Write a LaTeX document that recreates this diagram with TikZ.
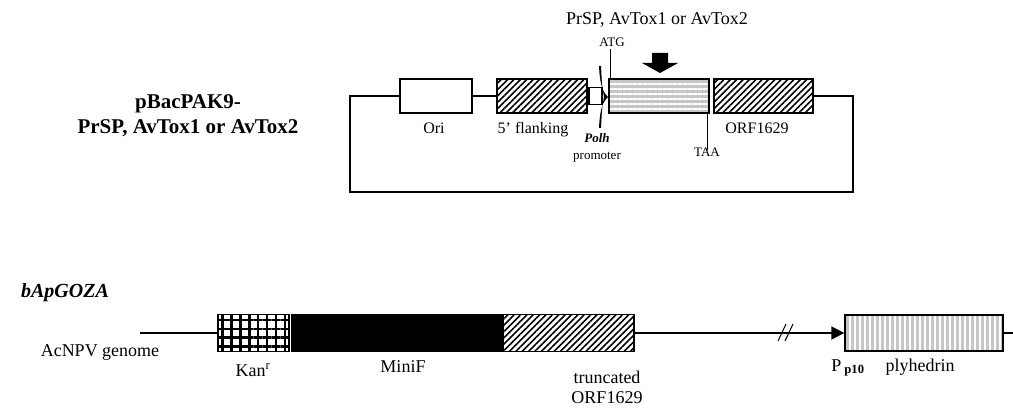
\documentclass[tikz,border=0pt]{standalone}
\usepackage{fontspec}
\setmainfont{Liberation Serif}
\usetikzlibrary{arrows.meta, patterns.meta, positioning}

\begin{document}
\begin{tikzpicture}[x=1pt, y=-1pt,
    box/.style={draw, line width=1.8pt, inner sep=0pt, minimum height=34pt},
    hatched/.style={box, pattern={Lines[angle=45, distance=4.5pt, line width=1.6pt]}},
    lbl/.style={font=\fontsize{16}{18}\selectfont, inner sep=0pt},
    sml/.style={font=\fontsize{13}{15}\selectfont, inner sep=0pt},
    big/.style={font=\fontsize{18}{20}\selectfont, inner sep=0pt},
    wire/.style={line width=1.6pt}]
\useasboundingbox (0,0) rectangle (1013,409);

% pBacPAK9 vector
\node[font=\fontsize{21}{25}\selectfont\bfseries, align=center, inner sep=0pt] (vecname) at (188,116) {pBacPAK9-\\PrSP, AvTox1 or AvTox2};
\node[font=\fontsize{18}{20}\selectfont, inner sep=0pt] (insname) at (657,20) {PrSP, AvTox1 or AvTox2};

\node[box, fill=white, minimum width=72pt] (ori) at (436,96) {};
\node[hatched, minimum width=90pt] (flank) at (542,96) {};
\node[box, fill=white, minimum width=13pt, minimum height=17pt, anchor=west] (polh) at (flank.east) {};
\node[box, minimum width=100pt, preaction={fill=gray!45},
      pattern={Lines[angle=0, distance=5pt, line width=1.3pt]}, pattern color=white] (gene) at (659,96) {};
\node[hatched, minimum width=99pt] (orf) at (763.5,96) {};

\draw[wire] (ori.east) -- (flank.west);
\coordinate (cl) at (350,192);
\coordinate (cr) at (853,192);
\draw[wire] (ori.west) -| (cl) -- (cr) |- (orf.east);

% promoter mark
\fill (599,66) .. controls (600,88) and (604,93) .. (608,97) .. controls (604,101) and (600,106) .. (599,128)
   -- (601,128) .. controls (602,108) .. (604,97) .. controls (602,86) .. (601,66) -- cycle;

% insertion arrow
\fill (652,53) -- (668,53) -- (668,63) -- (678,63) -- (660,73) -- (642,63) -- (652,63) -- cycle;

\node[sml] (atg) at (612,42) {ATG};
\draw[line width=0.6pt] (atg.south -| gene.west) ++(2,2) -- ([xshift=2pt]gene.north west);
\node[sml] (taa) at (707,152) {TAA};
\draw[line width=0.6pt] ([xshift=-2pt]gene.south east) -- ([xshift=-2pt, yshift=-2pt]taa.north -| gene.east);

\node[lbl] (orilbl) at (434,128) {Ori};
\node[lbl] (flanklbl) at (533,130) {5' flanking};
\node[sml, font=\fontsize{13}{15}\selectfont\itshape\bfseries] (polhlbl) at (597,138) {Polh};
\node[sml] (promlbl) at (597,157) {promoter};
\node[lbl] (orflbl) at (757,128) {ORF1629};

% bApGOZA genome
\node[font=\fontsize{20}{22}\selectfont\bfseries\itshape, inner sep=0pt] (bacname) at (65,293) {bApGOZA};
\coordinate (gstart) at (140,333);
\node[box, minimum height=37pt, minimum width=71pt, anchor=west,
      pattern={Hatch[angle=0, distance=8.9pt, line width=2.6pt]}] (kan) at (217,333) {};
\node[box, minimum height=37pt, minimum width=210pt, anchor=west, fill=black] (minif) at (kan.east) {};
\node[box, minimum height=37pt, minimum width=131pt, anchor=west,
      pattern={Lines[angle=45, distance=4.5pt, line width=1.6pt]}] (trunc) at (minif.east) {};
\node[box, minimum height=36pt, minimum width=158pt, preaction={fill=gray!45},
      pattern={Lines[angle=90, distance=5pt, line width=1.3pt]}, pattern color=white] (poly) at (924,333) {};
\coordinate (gend) at (1013,333);

\draw[wire] (gstart) -- (kan.west);
\draw[wire, -{Triangle[length=13pt, width=13pt]}] (trunc.east) -- (poly.west);
\draw[wire] (poly.east) -- (gend);
\draw[line width=1pt] (778,341) -- (786,324) (785,341) -- (793,324);

\node[big] (acnpv) at (100,352) {AcNPV genome};
\node[big] (kanlbl) at (253,370) {Kan\textsuperscript{r}};
\node[big] (miniflbl) at (403,367) {MiniF};
\node[big, align=center, font=\fontsize{18}{20}\selectfont] (trunclbl) at (607,387) {truncated\\ORF1629};
\node[big] (p10lbl) at (848,368) {P\,\textsubscript{\textbf{p10}}};
\node[big] (polylbl) at (920,367) {plyhedrin};
\end{tikzpicture}
\end{document}
